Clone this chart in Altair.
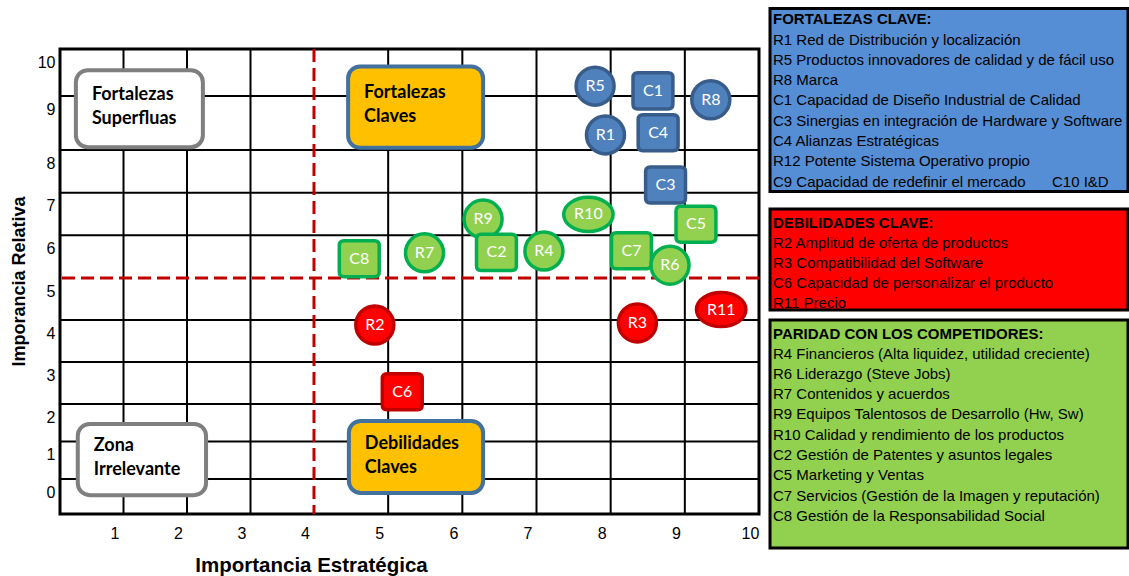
import altair as alt
import pandas as pd

# ---------------- data ----------------
etiquetas = ["R5", "C1", "R8", "R1", "C4", "C3",
             "R10", "C5", "R9", "C2", "R4", "R7", "C7", "R6", "C8",
             "R2", "R3", "R11", "C6"]
importancia_estrategica = [7.79, 8.57, 9.35, 7.93, 8.64, 8.74,
                           7.70, 9.15, 6.28, 6.46, 7.10, 5.49, 8.28, 8.80, 4.61,
                           4.82, 8.36, 9.49, 5.19]
importancia_relativa = [9.21, 9.11, 8.93, 8.28, 8.32, 7.18,
                        6.49, 6.26, 6.38, 5.60, 5.63, 5.59, 5.64, 5.30, 5.45,
                        3.88, 3.93, 4.25, 2.29]
grupos = ["Fortaleza", "Fortaleza", "Fortaleza", "Fortaleza", "Fortaleza", "Fortaleza",
          "Paridad", "Paridad", "Paridad", "Paridad", "Paridad", "Paridad", "Paridad", "Paridad", "Paridad",
          "Debilidad", "Debilidad", "Debilidad", "Debilidad"]

x_ticks = [1, 2, 3, 4, 5, 6, 7, 8, 9, 10]
y_ticks = [0, 1, 2, 3, 4, 5, 6, 7, 8, 9, 10]
x_grid = [1, 2, 3, 5, 6, 7, 8, 9]
y_grid = [0, 1, 2, 3, 4, 6, 7, 8, 9]
corte_x = [4]
corte_y = [5]

zonas_linea1 = ["Fortalezas", "Fortalezas", "Zona", "Debilidades"]
zonas_linea2 = ["Superfluas", "Claves", "Irrelevante", "Claves"]
zonas_tipo = ["Neutra", "Clave", "Neutra", "Clave"]
zonas_x1 = [0.25, 4.46, 0.28, 4.47]
zonas_x2 = [2.25, 6.28, 2.30, 6.28]
zonas_y1 = [8.05, 8.04, -0.37, -0.32]
zonas_y2 = [9.55, 9.63, 1.47, 1.55]

fortalezas_titulo = "FORTALEZAS CLAVE:"
fortalezas_items = [
    "R1 Red de Distribución y localización",
    "R5 Productos innovadores de calidad y de fácil uso",
    "R8 Marca",
    "C1 Capacidad de Diseño Industrial de Calidad",
    "C3 Sinergias en integración de Hardware y Software",
    "C4 Alianzas Estratégicas",
    "R12 Potente Sistema Operativo propio",
    "C9 Capacidad de redefinir el mercado",
]
fortalezas_extra = "C10 I&D"
debilidades_titulo = "DEBILIDADES CLAVE:"
debilidades_items = [
    "R2 Amplitud de oferta de productos",
    "R3 Compatibilidad del Software",
    "C6 Capacidad de personalizar el producto",
    "R11 Precio",
]
paridad_titulo = "PARIDAD CON LOS COMPETIDORES:"
paridad_items = [
    "R4 Financieros (Alta liquidez, utilidad creciente)",
    "R6 Liderazgo (Steve Jobs)",
    "R7 Contenidos y acuerdos",
    "R9 Equipos Talentosos de Desarrollo (Hw, Sw)",
    "R10 Calidad y rendimiento de los productos",
    "C2 Gestión de Patentes y asuntos legales",
    "C5 Marketing y Ventas",
    "C7 Servicios (Gestión de la Imagen y reputación)",
    "C8 Gestión de la Responsabilidad Social",
]

# ---------------- frames ----------------
def forma(e):
    if e.startswith("C"):
        return "cuadro"
    return "circulo" if len(e) == 2 else "elipse"

puntos = pd.DataFrame({
    "etiqueta": etiquetas,
    "x": importancia_estrategica,
    "y": importancia_relativa,
    "grupo": grupos,
    "forma": [forma(e) for e in etiquetas],
})
zonas = pd.DataFrame({
    "l1": zonas_linea1, "l2": zonas_linea2, "tipo": zonas_tipo,
    "x1": zonas_x1, "x2": zonas_x2, "y1": zonas_y1, "y2": zonas_y2,
})
gx = pd.DataFrame({"v": x_grid})
gy = pd.DataFrame({"v": y_grid})
cx = pd.DataFrame({"v": corte_x})
cy = pd.DataFrame({"v": corte_y})
uno = pd.DataFrame({"a": [0]})

# ---------------- scales / axes ----------------
W, H = 699, 465
xs = alt.Scale(domain=[0, 4, 10], range=[0, 254, W], nice=False, zero=False)
ys = alt.Scale(domain=[-0.8, 0, 2, 5, 8, 9, 10], range=[H, 430, 355, 229, 101, 47, 0],
               nice=False, zero=False)

xa = alt.Axis(values=x_ticks, title="Importancia Estratégica", grid=False, domain=False,
              ticks=False, tickSize=0, labelFont="Liberation Sans", labelFontSize=16,
              labelColor="black", labelOffset=-9, labelPadding=11, labelFlush=False,
              labelOverlap=False, titleFont="Liberation Sans", titleFontSize=20.5,
              titleFontWeight="bold", titleColor="black", titleX=251, titleY=57,
              titleAlign="center", titleBaseline="alphabetic")
ya = alt.Axis(values=y_ticks, title="Imporancia Relativa", grid=False, domain=False,
              ticks=False, tickSize=0, labelFont="Liberation Sans", labelFontSize=16,
              labelColor="black", labelOffset=13, labelPadding=5, labelFlush=False,
              labelOverlap=False, titleFont="Liberation Sans", titleFontSize=18,
              titleFontWeight="bold", titleColor="black", titleX=-41, titleY=232,
              titleAngle=270, titleAlign="center", titleBaseline="middle")


def X(f):
    return alt.X(f, type="quantitative", scale=xs, axis=xa)


def Y(f):
    return alt.Y(f, type="quantitative", scale=ys, axis=ya)


# ---------------- layers ----------------
grid_v = alt.Chart(gx).mark_rule(color="black", strokeWidth=2).encode(x=X("v"))
grid_h = alt.Chart(gy).mark_rule(color="black", strokeWidth=2).encode(y=Y("v"))
dash_v = alt.Chart(cx).mark_rule(color="#C00000", strokeWidth=3, strokeDash=[13, 6]).encode(x=X("v"))
dash_h = alt.Chart(cy).mark_rule(color="#C00000", strokeWidth=3, strokeDash=[13, 6]).encode(y=Y("v"))

zona_rect = alt.Chart(zonas).mark_rect(cornerRadius=12, strokeWidth=4).encode(
    x=X("x1"), x2="x2", y=Y("y1"), y2="y2",
    fill=alt.Fill("tipo:N", scale=alt.Scale(domain=["Neutra", "Clave"], range=["#FFFFFF", "#FFC000"]), legend=None),
    stroke=alt.Stroke("tipo:N", scale=alt.Scale(domain=["Neutra", "Clave"], range=["#7F7F7F", "#41719C"]), legend=None),
)
zbase = alt.Chart(zonas).transform_calculate(yc="(datum.y1 + datum.y2) / 2")
zona_t1 = zbase.mark_text(align="left", baseline="middle", dx=16, dy=-12, font="Lato",
                          fontSize=18, fontWeight="bold", color="black").encode(
    x=X("x1"), y=Y("yc"), text="l1:N")
zona_t2 = zbase.mark_text(align="left", baseline="middle", dx=16, dy=12, font="Lato",
                          fontSize=18, fontWeight="bold", color="black").encode(
    x=X("x1"), y=Y("yc"), text="l2:N")

sq = ("M-0.8,-0.95 L0.8,-0.95 Q1.05,-0.95 1.05,-0.7 L1.05,0.7 Q1.05,0.95 0.8,0.95 "
      "L-0.8,0.95 Q-1.05,0.95 -1.05,0.7 L-1.05,-0.7 Q-1.05,-0.95 -0.8,-0.95 Z")
el = ("M1.3,0 C1.3,0.497 0.718,0.9 0,0.9 C-0.718,0.9 -1.3,0.497 -1.3,0 "
      "C-1.3,-0.497 -0.718,-0.9 0,-0.9 C0.718,-0.9 1.3,-0.497 1.3,0 Z")

marcadores = alt.Chart(puntos).mark_point(filled=True, size=1444, strokeWidth=3.5,
                                           opacity=1, fillOpacity=1, strokeOpacity=1).encode(
    x=X("x"), y=Y("y"),
    shape=alt.Shape("forma:N", scale=alt.Scale(domain=["circulo", "elipse", "cuadro"],
                                               range=["circle", el, sq]), legend=None),
    fill=alt.Fill("grupo:N", scale=alt.Scale(domain=["Fortaleza", "Paridad", "Debilidad"],
                                             range=["#4F81BD", "#92D050", "#FF0000"]), legend=None),
    stroke=alt.Stroke("grupo:N", scale=alt.Scale(domain=["Fortaleza", "Paridad", "Debilidad"],
                                                 range=["#385D8A", "#00B050", "#C00000"]), legend=None),
)
marc_text = alt.Chart(puntos).mark_text(color="white", font="Lato", fontSize=16,
                                        baseline="middle", align="center").encode(
    x=X("x"), y=Y("y"), text="etiqueta:N")

# ---------------- side boxes (outside the plot area) ----------------
BX1, BX2 = 710, 1068
LH = 20.3
FS = 15


def caja(color, y1, y2):
    return alt.Chart(uno).mark_rect(fill=color, stroke="black", strokeWidth=3).encode(
        x=alt.value(BX1), x2=alt.value(BX2), y=alt.value(y1), y2=alt.value(y2))


def texto(t, y, bold=False, x=BX1 + 3):
    return alt.Chart(uno).mark_text(align="left", baseline="top", font="Liberation Sans",
                                    fontSize=FS, fontWeight="bold" if bold else "normal",
                                    color="black", lineHeight=LH).encode(
        x=alt.value(x), y=alt.value(y), text=alt.value(t))


lado = [
    caja("#558ED5", -40.5, 142.5),
    texto(fortalezas_titulo, -37.5, True),
    texto(fortalezas_items, -16.5),
    texto(fortalezas_extra, -16.5 + 7 * LH, x=992),
    caja("#FF0000", 160, 261),
    texto(debilidades_titulo, 166.5, True),
    texto(debilidades_items, 186.5),
    caja("#92D050", 271, 499),
    texto(paridad_titulo, 277.5, True),
    texto(paridad_items, 297.5),
]

chart = alt.layer(
    grid_v, grid_h, dash_v, dash_h, zona_rect, zona_t1, zona_t2, marcadores, marc_text, *lado
).resolve_scale(
    fill="independent", stroke="independent"
).properties(
    width=W, height=H,
    padding={"left": 60, "top": 49, "right": 370, "bottom": 62},
    autosize=alt.AutoSizeParams(type="none"),
    background="white",
).configure_view(stroke="black", strokeWidth=3)

chart.save("out.html", embed_options={"renderer": "svg", "actions": False})
